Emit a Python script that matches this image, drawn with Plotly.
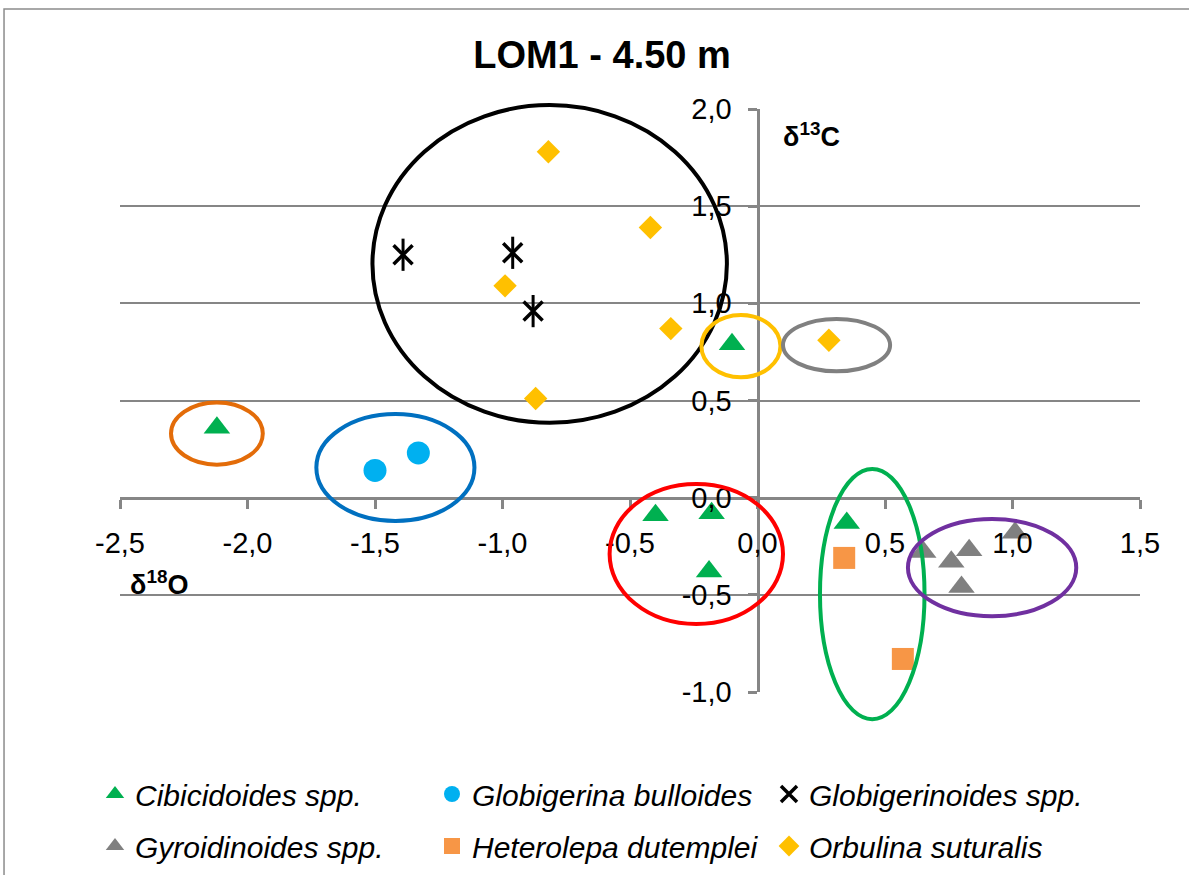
import plotly.graph_objects as go

# ---- data ----
cib_x = [-2.12, -0.10, -0.40, -0.18, -0.19, 0.35]
cib_y = [0.36, 0.79, -0.09, -0.08, -0.38, -0.13]

gbul_x = [-1.50, -1.33]
gbul_y = [0.14, 0.23]

gsp_x = [-1.39, -0.96, -0.88]
gsp_y = [1.25, 1.26, 0.96]

gyr_x = [0.65, 0.76, 0.83, 0.80, 1.01]
gyr_y = [-0.28, -0.33, -0.27, -0.46, -0.18]

het_x = [0.34, 0.57]
het_y = [-0.31, -0.83]

orb_x = [-0.82, -0.42, -0.99, -0.34, -0.87, 0.28]
orb_y = [1.78, 1.39, 1.09, 0.87, 0.51, 0.81]

# group ellipses (data units): colour, x0, x1, y0, y1
ell_colors = ["#000000", "#E36C09", "#0070C0", "#FFC000", "#808080", "#FF0000", "#00B050", "#7030A0"]
ell_x0 = [-1.51, -2.30, -1.73, -0.22, 0.10, -0.58, 0.245, 0.59]
ell_x1 = [-0.12, -1.94, -1.11, 0.09, 0.52, 0.10, 0.655, 1.25]
ell_y0 = [0.385, 0.17, -0.12, 0.62, 0.65, -0.65, -1.14, -0.61]
ell_y1 = [2.02, 0.49, 0.43, 0.94, 0.92, 0.07, 0.148, -0.11]

x_range = [-2.5, 1.5]
y_range = [-1.0, 2.0]
x_ticks = [-2.5, -2.0, -1.5, -1.0, -0.5, 0.0, 0.5, 1.0, 1.5]
y_ticks = [-1.0, -0.5, 0.0, 0.5, 1.0, 1.5, 2.0]


def fmt(v):
    return f"{v:.1f}".replace(".", ",")


def px(v):  # data x -> paper fraction of the plot area (axes scale)
    return (v - x_range[0]) / (x_range[1] - x_range[0])


def py(v):  # data y -> paper fraction
    return (v - y_range[0]) / (y_range[1] - y_range[0])


FONT = "Liberation Sans, Arial, sans-serif"
AX = "#868686"

fig = go.Figure()

fig.add_trace(go.Scatter(x=cib_x, y=cib_y, mode="markers", name="<i>Cibicidoides spp.</i>",
                         marker=dict(symbol="triangle-up", size=23, color="#00B050")))
fig.add_trace(go.Scatter(x=gbul_x, y=gbul_y, mode="markers", name="<i>Globigerina bulloides</i>",
                         marker=dict(symbol="circle", size=23, color="#00B0F0")))
fig.add_trace(go.Scatter(x=gsp_x, y=gsp_y, mode="markers", name="<i>Globigerinoides spp.</i>",
                         legendgroup="gsp",
                         marker=dict(symbol="x-thin-open", size=19, color="#000000",
                                     line=dict(width=3.5, color="#000000"))))
fig.add_trace(go.Scatter(x=gsp_x, y=gsp_y, mode="markers", showlegend=False, legendgroup="gsp",
                         marker=dict(symbol="line-ns-open", size=23, color="#000000",
                                     line=dict(width=3, color="#000000"))))
fig.add_trace(go.Scatter(x=gyr_x, y=gyr_y, mode="markers", name="<i>Gyroidinoides spp.</i>",
                         marker=dict(symbol="triangle-up", size=23, color="#808080")))
fig.add_trace(go.Scatter(x=het_x, y=het_y, mode="markers", name="<i>Heterolepa dutemplei</i>",
                         marker=dict(symbol="square", size=22, color="#F79646")))
fig.add_trace(go.Scatter(x=orb_x, y=orb_y, mode="markers", name="<i>Orbulina suturalis</i>",
                         marker=dict(symbol="diamond", size=18, color="#FFC000")))

shapes = []
for c, a, b, lo, hi in zip(ell_colors, ell_x0, ell_x1, ell_y0, ell_y1):
    shapes.append(dict(type="circle", xref="paper", yref="paper",
                       x0=px(a), x1=px(b), y0=py(lo), y1=py(hi),
                       line=dict(color=c, width=4), layer="above"))
# outer chart border
shapes.append(dict(type="rect", xref="paper", yref="paper", x0=-0.1137, x1=1.06, y0=-0.33, y1=1.1715,
                   line=dict(color="#8c8c8c", width=1.5), layer="below"))

fig.update_layout(
    width=1189, height=875,
    margin=dict(l=120, r=49, t=109, b=183, autoexpand=False),
    paper_bgcolor="white", plot_bgcolor="white",
    font=dict(family=FONT, color="black"),
    title=dict(text="<b>LOM1 - 4.50 m</b>", x=602 / 1189, xref="container", xanchor="center",
               y=1 - 55 / 875, yref="container", yanchor="middle",
               font=dict(size=38, family=FONT, color="black")),
    xaxis=dict(range=x_range, tickvals=x_ticks, ticktext=[fmt(v) for v in x_ticks],
               showgrid=False, zeroline=False, showline=True, linecolor=AX, linewidth=3,
               ticks="outside", ticklen=9, tickwidth=3, tickcolor=AX,
               anchor="free", position=1 / 3, tickfont=dict(size=29),
               ticklabelstandoff=10),
    yaxis=dict(range=y_range, tickvals=y_ticks, ticktext=[fmt(v) for v in y_ticks],
               showgrid=True, gridcolor=AX, gridwidth=2, zeroline=False,
               showline=True, linecolor=AX, linewidth=3,
               ticks="outside", ticklen=9, tickwidth=3, tickcolor=AX,
               anchor="free", position=0.625, tickfont=dict(size=29),
               ticklabelstandoff=10),
    shapes=shapes,
    showlegend=True,
    legend=dict(orientation="h", x=(95 - 120) / 1020, xanchor="left",
                y=(692 - 768) / 583, yanchor="top",
                font=dict(size=30, family=FONT), entrywidth=292, entrywidthmode="pixels",
                bgcolor="rgba(0,0,0,0)"),
    annotations=[
        dict(text="<b>δ<sup>18</sup>O</b>", xref="paper", yref="paper",
             x=(128 - 120) / 1020, y=(692 - 583) / 583, xanchor="left", yanchor="middle",
             showarrow=False, font=dict(size=27, family=FONT)),
        dict(text="<b>δ<sup>13</sup>C</b>", xref="paper", yref="paper",
             x=(781 - 120) / 1020, y=(692 - 135) / 583, xanchor="left", yanchor="middle",
             showarrow=False, font=dict(size=27, family=FONT)),
    ],
)

fig.write_html("out.html")
